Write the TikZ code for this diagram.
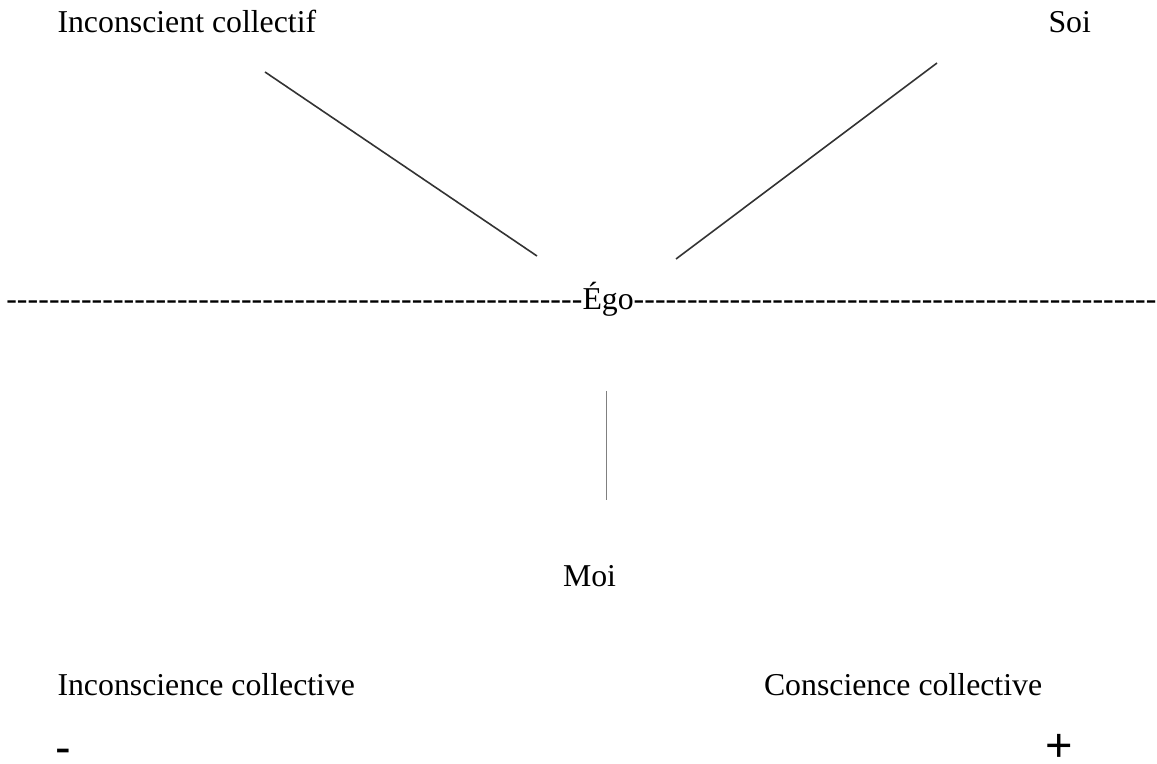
\documentclass[tikz,border=0pt]{standalone}
\usepackage{fontspec}
\setmainfont{Liberation Serif}
\newfontfamily\plainsans{Liberation Sans}
\newcommand\hyrun[1]{\foreach\k in {1,...,#1}{-\kern0.04pt}}
\tikzset{
  lbl/.style={anchor=base west, inner sep=0pt, outer sep=0pt, font=\fontsize{15.9}{19}\selectfont},
  sign/.style={anchor=base west, inner sep=0pt, outer sep=0pt, font=\plainsans\fontsize{23.5}{28}\selectfont},
  diag/.style={draw=black!80, line width=0.8pt},
  vert/.style={draw=black!50, line width=0.9pt}
}
\begin{document}
\begin{tikzpicture}[x=0.5pt, y=-0.5pt]
\useasboundingbox (0,0) rectangle (1157,764);
\node[lbl] (ic) at (57.5,33) {Inconscient collectif};
\node[lbl] (soi) at (1048.5,33) {Soi};
\node[lbl] (ego) at (582.5,310) {Égo};
\node[lbl, anchor=base east] (dl) at (ego.base west) {\hyrun{54}};
\node[lbl] (dr) at (ego.base east) {\hyrun{49}};
\node[lbl] (moi) at (563,587) {Moi};
\node[lbl] (ice) at (57.5,695) {Inconscience collective};
\node[lbl] (ce) at (764,695) {Conscience collective};
\node[sign] (minus) at (55,763) {-};
\node[sign] (plus) at (1045.4,761.6) {+};
\coordinate (a1) at (265,72);
\coordinate (a2) at (537,256);
\coordinate (b1) at (937,63);
\coordinate (b2) at (676,259);
\coordinate (c1) at (606.5,391);
\coordinate (c2) at (606.5,500);
\draw[diag] (a1) -- (a2);
\draw[diag] (b1) -- (b2);
\draw[vert] (c1) -- (c2);
\end{tikzpicture}
\end{document}
